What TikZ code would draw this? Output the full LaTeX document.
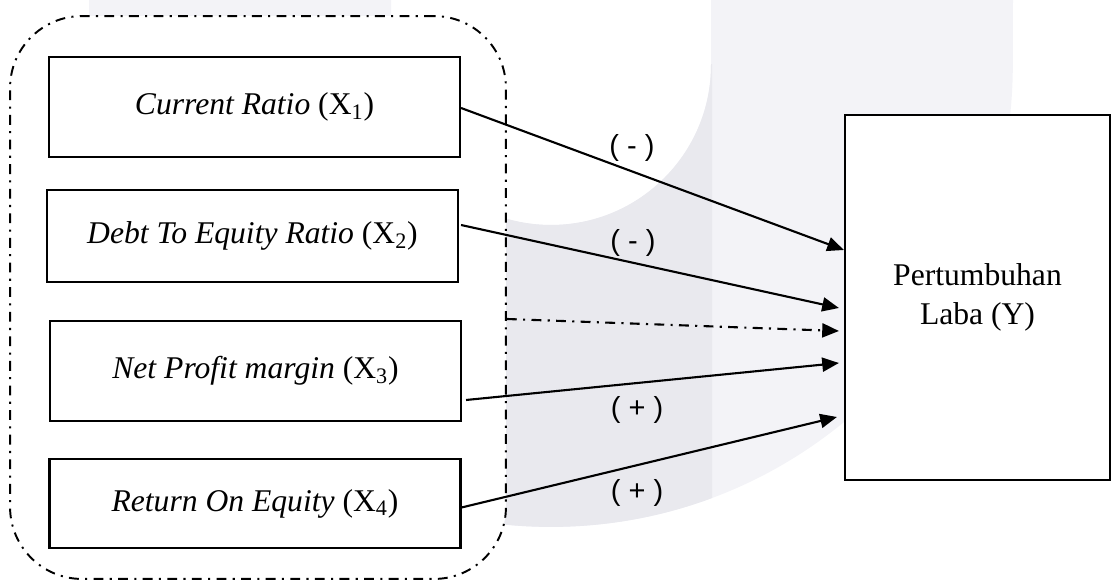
\documentclass[tikz,border=0pt]{standalone}
\usepackage{fontspec}
\setmainfont{Liberation Serif}
\newfontfamily\lblfont{Liberation Sans}
\usetikzlibrary{arrows.meta,calc}
\definecolor{wmlight}{RGB}{243,243,247}
\definecolor{wmdark}{RGB}{233,233,238}
\tikzset{
  varbox/.style={draw, line width=1.25pt, fill=white, minimum width=8.22cm,
    inner sep=0pt, font=\fontsize{18}{22}\selectfont},
  ybox/.style={draw, line width=1.25pt, fill=white, minimum width=5.3cm,
    minimum height=7.3cm, align=center, font=\fontsize{18}{22}\selectfont},
  grpbox/.style={draw, line width=1.1pt, fill=white, rounded corners=1.44cm,
    dash pattern=on 5.6pt off 3.6pt on 1.2pt off 3.6pt},
  arr/.style={line width=1.2pt, -{Triangle[length=9.5pt,width=8pt]}},
  dasharr/.style={arr, dash pattern=on 5.6pt off 3.6pt on 1.2pt off 3.6pt},
  sign/.style={font=\lblfont\fontsize{16.5}{18}\selectfont, inner sep=0pt}
}
\begin{document}
\begin{tikzpicture}[x=0.02cm,y=-0.02cm]
\useasboundingbox (0,0) rectangle (1113,580);
% faint watermark
\path[fill=wmlight] (89,0) -- (89,65) arc[start angle=180,end angle=360,radius=9.24cm]
  -- (1013,0) -- (711,0) -- (711,65) arc[start angle=0,end angle=-180,radius=3.2cm]
  -- (391,0) -- cycle;
\begin{scope}
\clip (0,65) rectangle (712,580);
\path[fill=wmdark] (89,0) -- (89,65) arc[start angle=180,end angle=360,radius=9.24cm]
  -- (1013,0) -- (711,0) -- (711,65) arc[start angle=0,end angle=-180,radius=3.2cm]
  -- (391,0) -- cycle;
\end{scope}
% group container
\node[grpbox, minimum width=9.92cm, minimum height=11.26cm] (grp) at (258,297.5) {};
% variable boxes
\node[varbox, minimum height=2cm] (b1) at (254.5,107) {\textit{Current Ratio} (X\textsubscript{1})};
\node[varbox, minimum height=1.84cm] (b2) at (252.5,236) {\textit{Debt To Equity Ratio} (X\textsubscript{2})};
\node[varbox, minimum height=2cm] (b3) at (255.5,371) {\textit{Net Profit margin} (X\textsubscript{3})};
\node[varbox, minimum height=1.78cm] (b4) at (255,503.5) {\textit{Return On Equity} (X\textsubscript{4})};
% dependent box
\node[ybox] (Y) at (977.5,297.5) {Pertumbuhan\\Laba (Y)};
% connectors
\draw[arr] ($(b1.east)+(0,1)$) -- ($(Y.west)+(0,-47.5)$);
\draw[arr] ($(b2.east)+(2,-11)$) -- ($(Y.west)+(-5,10.5)$);
\draw[dasharr] ($(grp.east)+(0,21.5)$) -- ($(Y.west)+(-5,33.5)$);
\draw[arr] ($(b3.east)+(4,29)$) -- ($(Y.west)+(-5,65.5)$);
\draw[arr] ($(b4.east)+(0,4)$) -- ($(Y.west)+(-7,119.5)$);
% signs
\node[sign] (s1) at (632,148) {( - )};
\node[sign] (s2) at (633,243) {( - )};
\node[sign] (s3) at (637,410) {( + )};
\node[sign] (s4) at (637,493) {( + )};
\end{tikzpicture}
\end{document}
